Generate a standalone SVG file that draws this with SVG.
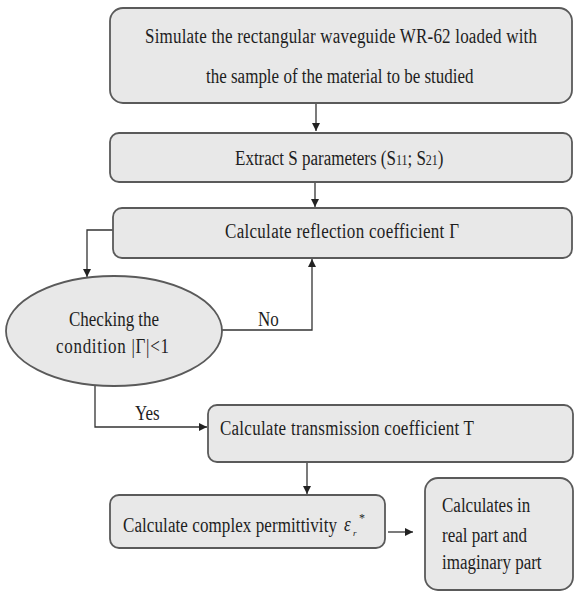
<svg xmlns="http://www.w3.org/2000/svg" width="574" height="592" viewBox="0 0 574 592">
<defs>
<marker id="ah" viewBox="0 0 10 10" refX="10" refY="5" markerWidth="8" markerHeight="8" markerUnits="userSpaceOnUse" orient="auto">
<path d="M0,0 L10,5 L0,10 z" fill="#222"/>
</marker>
</defs>
<style>
.box{fill:#e8e8e8;stroke:#5a5a5a;stroke-width:1.8}
.t{font-family:"Liberation Serif","Times New Roman",serif;font-size:17px;fill:#1e1e1e}
.sub{font-size:12px}
.ln{fill:none;stroke:#333;stroke-width:1.3}
</style>
<rect width="574" height="592" fill="#ffffff"/>
<g id="connectors">
<path class="ln" d="M316,103 V131" marker-end="url(#ah)"/>
<path class="ln" d="M315,182 V207" marker-end="url(#ah)"/>
<path class="ln" d="M113,230 H87 V277" marker-end="url(#ah)"/>
<path class="ln" d="M222,330 H312 V259" marker-end="url(#ah)"/>
<path class="ln" d="M95,385 V427 H207" marker-end="url(#ah)"/>
<path class="ln" d="M307,462 V494" marker-end="url(#ah)"/>
<path class="ln" d="M388,532 H413" marker-end="url(#ah)"/>
<text class="t" transform="translate(258,326) scale(1,1.22)">No</text>
<text class="t" transform="translate(135,420) scale(1,1.22)">Yes</text>
</g>
<g id="simulate">
<rect class="box" x="110" y="8" width="462" height="95" rx="13"/>
<text class="t" transform="translate(145,43) scale(1,1.22)" textLength="392" lengthAdjust="spacing">Simulate the rectangular waveguide WR-62 loaded with</text>
<text class="t" transform="translate(206,83) scale(1,1.22)">the sample of the material to be studied</text>
</g>
<g id="extract">
<rect class="box" x="110" y="133" width="462" height="49" rx="9"/>
<text class="t" transform="translate(235,165) scale(1,1.22)">Extract S parameters (S<tspan class="sub">11</tspan>; S<tspan class="sub">21</tspan>)</text>
</g>
<g id="reflection">
<rect class="box" x="113" y="208" width="459" height="50" rx="9"/>
<text class="t" transform="translate(225,238) scale(1,1.22)" textLength="234" lengthAdjust="spacing">Calculate reflection coefficient  Γ</text>
</g>
<g id="check">
<ellipse class="box" cx="114" cy="331" rx="108" ry="55"/>
<text class="t" transform="translate(69,326) scale(1,1.22)">Checking the</text>
<text class="t" transform="translate(56,353) scale(1,1.22)" textLength="113" lengthAdjust="spacing">condition |Γ|&lt;1</text>
</g>
<g id="transmission">
<rect class="box" x="208" y="405" width="365" height="57" rx="9"/>
<text class="t" transform="translate(220,435) scale(1,1.22)" textLength="254" lengthAdjust="spacing">Calculate transmission coefficient T</text>
</g>
<g id="permittivity">
<rect class="box" x="110" y="495" width="275" height="53" rx="9"/>
<text class="t" transform="translate(123,532) scale(1,1.22)" textLength="214" lengthAdjust="spacing">Calculate complex permittivity</text>
<text class="t" transform="translate(344,531) scale(1,1.22)" font-style="italic">ε</text>
<text class="t" style="font-size:9px;font-style:italic" x="353" y="536">r</text>
<text class="t" style="font-size:12px" x="359" y="522">*</text>
</g>
<g id="parts">
<rect class="box" x="425" y="478" width="148" height="112" rx="13"/>
<text class="t" transform="translate(442,512) scale(1,1.22)">Calculates in</text>
<text class="t" transform="translate(442,542) scale(1,1.22)">real part and</text>
<text class="t" transform="translate(442,569) scale(1,1.22)">imaginary part</text>
</g>
</svg>
